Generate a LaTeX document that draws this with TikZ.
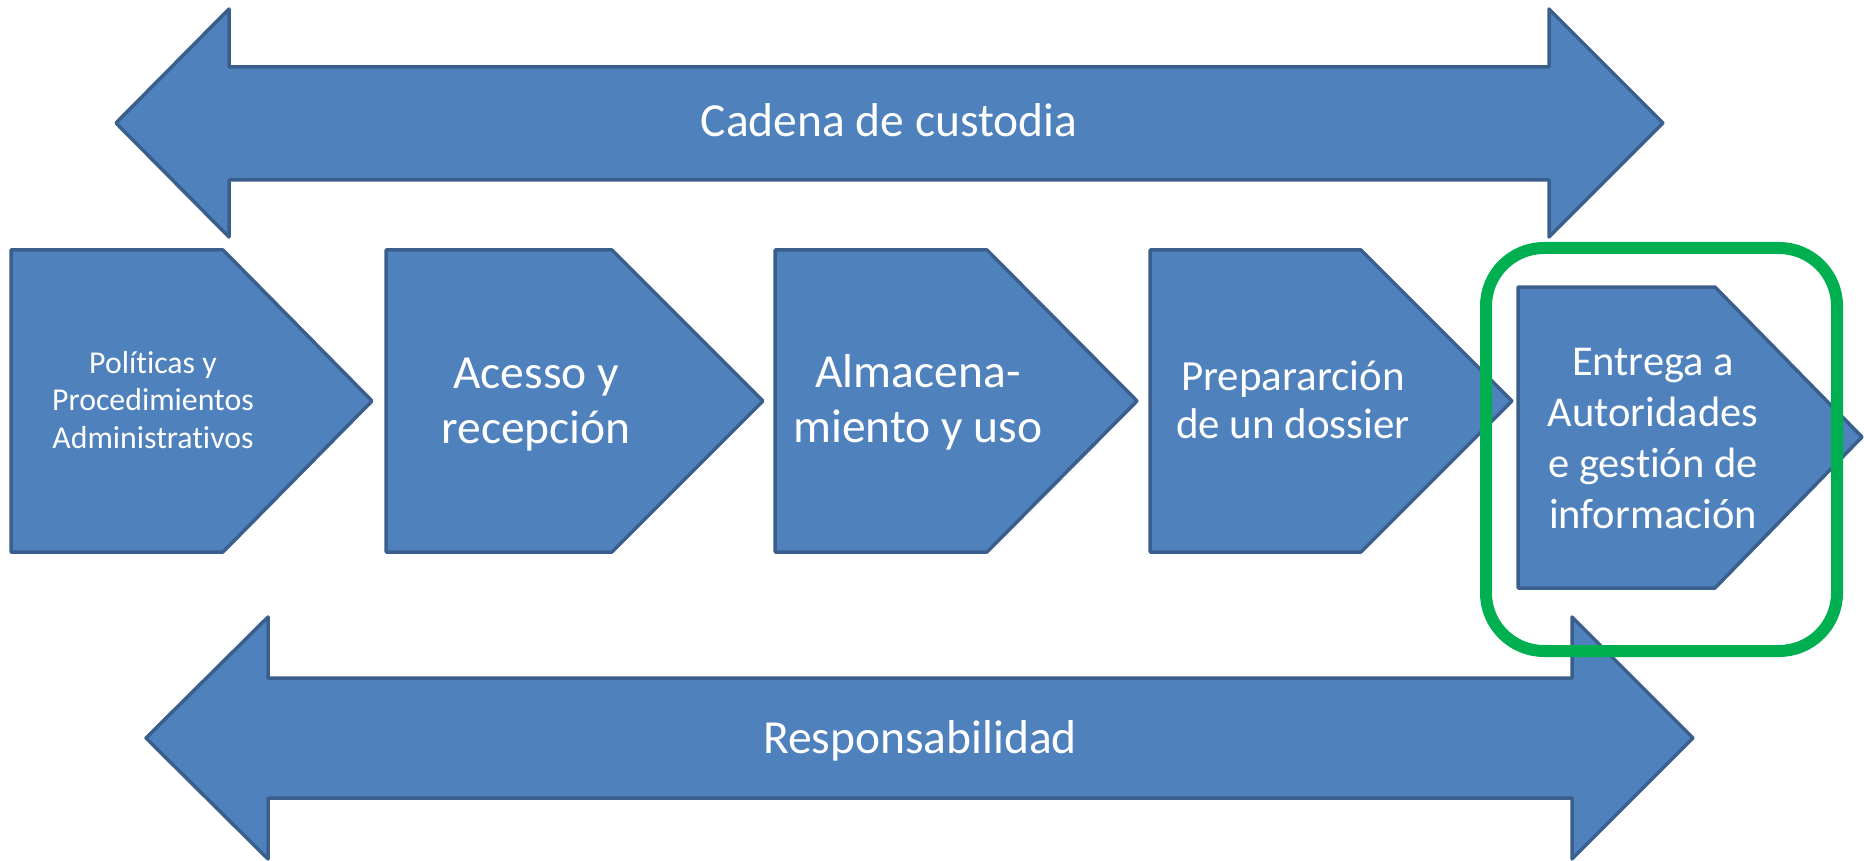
\documentclass[tikz,border=0pt]{standalone}
\usepackage{fontspec}
\setmainfont{Carlito}[Ligatures=NoCommon]
\definecolor{boxfill}{HTML}{4F81BD}
\definecolor{boxline}{HTML}{3A5F8D}
\definecolor{hlgreen}{HTML}{00B050}
\tikzset{
  shapebox/.style={fill=boxfill, draw=boxline, line width=3.5pt, line join=round},
  lbl/.style={text=white, align=center, inner sep=0pt, anchor=base},
  flabel/.style={font=\fontsize{47.5}{55}\selectfont},
  fbig/.style={font=\fontsize{47.5}{55}\selectfont},
  fmid/.style={font=\fontsize{43}{48}\selectfont},
  fsmall/.style={font=\fontsize{31.8}{37.5}\selectfont},
  fbox/.style={font=\fontsize{42.5}{51}\selectfont},
}
\begin{document}
\begin{tikzpicture}[x=1pt,y=-1pt]
\useasboundingbox (0,0) rectangle (1864,861);
% top double arrow
\draw[shapebox] (116,123) -- (229,9) -- (229,67) -- (1549,67) -- (1549,9) -- (1663,123)
  -- (1549,237) -- (1549,180) -- (229,180) -- (229,237) -- cycle;
\node[lbl,flabel] (cadena) at (889,137) {Cadena de custodia};
% process boxes
\draw[shapebox] (11,250) -- (223,250) -- (372,401) -- (223,552) -- (11,552) -- cycle;
\node[lbl,fsmall] (b1) at (153,448) {Políticas y\\Procedimientos\\Administrativos};
\draw[shapebox] (386,250) -- (612,250) -- (763,401) -- (612,552) -- (386,552) -- cycle;
\node[lbl,fbig] (b2) at (536,443) {Acesso y\\recepción};
\draw[shapebox] (775,250) -- (987,250) -- (1137,401) -- (987,552) -- (775,552) -- cycle;
\node[lbl,fbig] (b3) at (918,442) {Almacena-\\miento y uso};
\draw[shapebox] (1150,250) -- (1361,250) -- (1512,401) -- (1361,552) -- (1150,552) -- cycle;
\node[lbl,fmid] (b4) at (1293,438) {Prepararción\\de un dossier};
\draw[shapebox] (1518,287) -- (1715,287) -- (1862,437) -- (1715,588) -- (1518,588) -- cycle;
\node[lbl,fbox] (b5) at (1653,528) {Entrega a\\Autoridades\\e gestión de\\información};
% bottom double arrow
\draw[shapebox] (146,738) -- (268,617) -- (268,678) -- (1572,678) -- (1572,617) -- (1693,738)
  -- (1572,859) -- (1572,798) -- (268,798) -- (268,859) -- cycle;
\node[lbl,flabel] (resp) at (920,753) {Responsabilidad};
% highlight
\draw[draw=hlgreen, line width=12pt, rounded corners=58pt] (1486,248) rectangle (1837,651);
\end{tikzpicture}
\end{document}
